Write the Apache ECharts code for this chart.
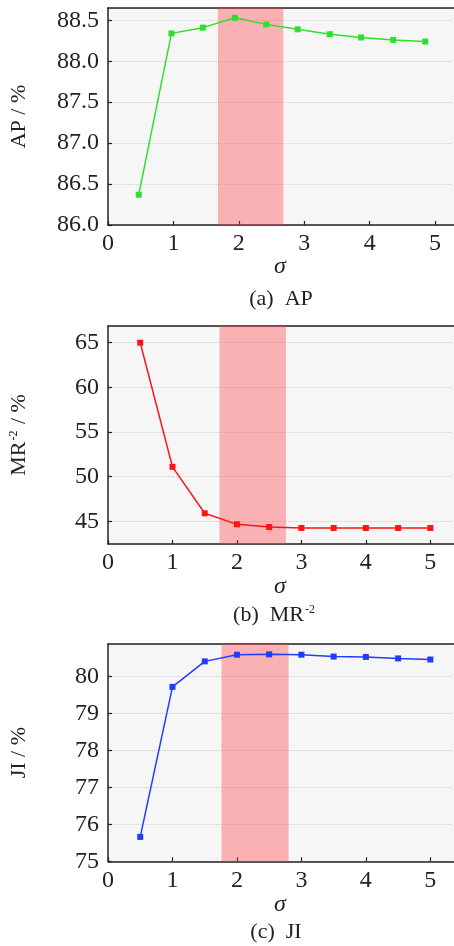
<!DOCTYPE html>
<html>
<head>
<meta charset="utf-8">
<script src="https://cdn.jsdelivr.net/npm/echarts@6/dist/echarts.min.js"></script>
<style>html,body{margin:0;padding:0;background:#fff}#c{width:454px;height:946px}</style>
</head>
<body>
<div id="c"></div>
<script>
// ---- data ----
var apSigma = [0.47, 0.97, 1.45, 1.94, 2.42, 2.90, 3.39, 3.87, 4.36, 4.85];
var apValues = [86.37, 88.34, 88.41, 88.53, 88.45, 88.39, 88.33, 88.29, 88.26, 88.24];
var sigma = [0.5, 1, 1.5, 2, 2.5, 3, 3.5, 4, 4.5, 5];
var mrValues = [65.0, 51.1, 45.9, 44.66, 44.36, 44.25, 44.25, 44.25, 44.25, 44.25];
var jiValues = [75.66, 79.72, 80.41, 80.59, 80.60, 80.59, 80.54, 80.53, 80.49, 80.46];
var apBand = [1.68, 2.68];
var mrBand = [1.73, 2.76];
var jiBand = [1.76, 2.80];
var apRange = [86, 88.65];
var mrRange = [42.46, 66.87];
var jiRange = [75, 80.88];
var apXMax = 5.29;
var mrXMax = 5.367;
var jiXMax = 5.367;
var xTickLabels = ['0', '1', '2', '3', '4', '5'];

var FONT = '"Liberation Serif", "Times New Roman", serif';
var AXC = '#222';

function pairs(xs, ys) { return xs.map(function (x, i) { return [x, ys[i]]; }); }

function grid(top, left, height) {
  return { top: top, left: left, height: height, right: 0, show: true,
    backgroundColor: '#f6f6f6', borderWidth: 0 };
}
function xAxis(idx, xmax) {
  return { type: 'value', gridIndex: idx, min: 0, max: xmax, interval: 1,
    axisLine: { show: true, onZero: false, lineStyle: { color: AXC, width: 1.5 } },
    axisTick: { show: true, inside: true, length: 4, lineStyle: { color: AXC, width: 1.2 } },
    splitLine: { show: false },
    axisLabel: { showMaxLabel: false, margin: 7, color: '#222', fontFamily: FONT, fontSize: 24,
      formatter: function (v) { var i = Math.round(v); return (Math.abs(v - i) < 1e-6 && xTickLabels[i] !== undefined) ? xTickLabels[i] : ''; } }
  };
}
function xTop(idx, xmax) {
  return { type: 'value', gridIndex: idx, position: 'top', min: 0, max: xmax,
    axisLine: { show: true, onZero: false, lineStyle: { color: AXC, width: 1.5 } },
    axisTick: { show: false }, axisLabel: { show: false }, splitLine: { show: false } };
}
function yAxis(idx, range, interval, digits, name) {
  var a = { type: 'value', gridIndex: idx, min: range[0], max: range[1],
    name: name, nameLocation: 'middle', nameGap: 78, nameRotate: 90,
    nameTextStyle: { fontFamily: FONT, fontSize: 22, color: '#222',
      rich: { b: { fontFamily: FONT, fontSize: 22, color: '#222' },
              sup: { fontFamily: FONT, fontSize: 12, color: '#222', verticalAlign: 'top', padding: [0, 1, 10, 1] } } },
    axisLine: { show: true, lineStyle: { color: AXC, width: 1.5 } },
    axisTick: { show: true, inside: true, length: 4, lineStyle: { color: AXC, width: 1.2 } },
    splitLine: { show: true, lineStyle: { color: '#cfcfcf', type: 'dotted', width: 1 } },
    axisLabel: { showMaxLabel: false, margin: 9, color: '#222', fontFamily: FONT, fontSize: 24,
      formatter: function (v) { return v.toFixed(digits); } }
  };
  if (interval) a.interval = interval; else { a.splitNumber = 5; a.axisLabel.showMinLabel = false; }
  return a;
}
function lineSeries(idx, data, color) {
  return { type: 'line', xAxisIndex: idx * 2, yAxisIndex: idx, data: data, z: 2,
    symbol: 'rect', symbolSize: 6, showSymbol: true,
    lineStyle: { color: color, width: 1.5 }, itemStyle: { color: color } };
}
function bandSeries(idx, band) {
  return { type: 'line', xAxisIndex: idx * 2, yAxisIndex: idx, data: [], z: 5,
    markArea: { silent: true, itemStyle: { color: 'rgba(255,65,72,0.38)' },
      data: [[{ xAxis: band[0] }, { xAxis: band[1] }]] } };
}
function label(x, y, text, extra) {
  var s = { text: text, x: x, y: y, align: 'center', verticalAlign: 'middle',
    font: '22px ' + FONT, fill: '#222' };
  for (var k in extra) s[k] = extra[k];
  return { type: 'text', style: s, z: 10 };
}

var chart = echarts.init(document.getElementById('c'), null, { renderer: 'canvas' });
chart.setOption({
  animation: false,
  grid: [grid(8, 107, 217), grid(326, 107.3, 218), grid(644, 107.3, 217.3)],
  xAxis: [xAxis(0, apXMax), xTop(0, apXMax), xAxis(1, mrXMax), xTop(1, mrXMax), xAxis(2, jiXMax), xTop(2, jiXMax)],
  yAxis: [
    yAxis(0, apRange, 0.5, 1, 'AP / %'),
    yAxis(1, mrRange, null, 0, '{b|MR}{sup|-2}{b| / %}'),
    yAxis(2, jiRange, 1, 0, 'JI / %')
  ],
  series: [
    lineSeries(0, pairs(apSigma, apValues), '#2ee02e'),
    bandSeries(0, apBand),
    lineSeries(1, pairs(sigma, mrValues), '#ff1414'),
    bandSeries(1, mrBand),
    lineSeries(2, pairs(sigma, jiValues), '#1f3cff'),
    bandSeries(2, jiBand)
  ],
  graphic: [
    label(280, 267, 'σ', { font: 'italic 24px ' + FONT }),
    label(281, 299, '(a)  AP'),
    label(280, 587, 'σ', { font: 'italic 24px ' + FONT }),
    { type: 'text', z: 10, style: { x: 274, y: 615, align: 'center', verticalAlign: 'middle',
        text: '{b|(b)  MR}{sup|-2}',
        rich: { b: { fontFamily: FONT, fontSize: 22, fill: '#222', color: '#222' },
                sup: { fontFamily: FONT, fontSize: 12, fill: '#222', color: '#222', verticalAlign: 'top', padding: [0, 0, 10, 1] } } } },
    label(280, 905, 'σ', { font: 'italic 24px ' + FONT }),
    label(276, 932, '(c)  JI')
  ]
});
</script>
</body>
</html>
